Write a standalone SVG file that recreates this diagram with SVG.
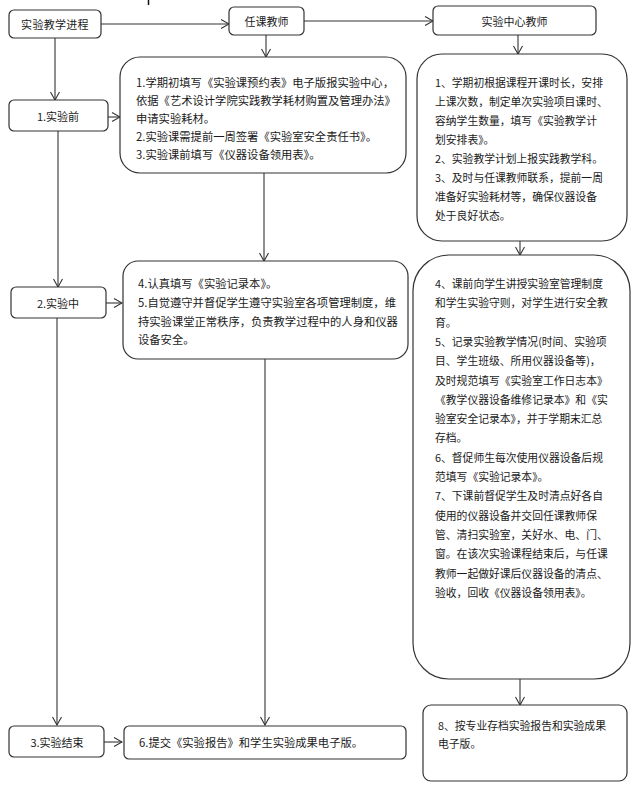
<svg xmlns="http://www.w3.org/2000/svg" width="638" height="785" viewBox="0 0 638 785">
<defs>
<marker id="arr" markerWidth="10" markerHeight="12" refX="9" refY="5" orient="auto" markerUnits="userSpaceOnUse">
<path d="M1,0.5 L9,5 L1,9.5" fill="none" stroke="#333" stroke-width="1.1"/>
</marker>
<style>
.box{fill:#fff;stroke:#333;stroke-width:1.2}
.c{fill:none;stroke:#333;stroke-width:1.1}
text{font-family:"Noto Sans CJK SC","Noto Sans",sans-serif;fill:#1a1a1a}
.h{font-size:11px;text-anchor:middle;dominant-baseline:central}
.t{font-size:11.3px;dominant-baseline:central}
.r{font-size:10.8px;dominant-baseline:central}
</style>
</defs>
<rect width="638" height="785" fill="#fff"/>
<line x1="148.5" y1="0" x2="148.5" y2="5" stroke="#111" stroke-width="1.5"/>
<g id="connectors">
<path class="c" d="M101,24 H229" marker-end="url(#arr)"/>
<path class="c" d="M304,21 H433" marker-end="url(#arr)"/>
<path class="c" d="M266,35 V57" marker-end="url(#arr)"/>
<path class="c" d="M518,35 V54" marker-end="url(#arr)"/>
<path class="c" d="M55,38 V100" marker-end="url(#arr)"/>
<path class="c" d="M108,117 H120" marker-end="url(#arr)"/>
<path class="c" d="M58,131 V287" marker-end="url(#arr)"/>
<path class="c" d="M264,173 V261" marker-end="url(#arr)"/>
<path class="c" d="M520,241 V255" marker-end="url(#arr)"/>
<path class="c" d="M106,303 H122" marker-end="url(#arr)"/>
<path class="c" d="M57,318 V725" marker-end="url(#arr)"/>
<path class="c" d="M265,359 V725" marker-end="url(#arr)"/>
<path class="c" d="M520,679 V705" marker-end="url(#arr)"/>
<path class="c" d="M104,742 H122" marker-end="url(#arr)"/>
</g>
<g id="n-process">
<rect class="box" x="9" y="10" width="92" height="28" rx="5"/>
<text class="h" x="55" y="24" letter-spacing="0.3">实验教学进程</text>
</g>
<g id="n-teacher">
<rect class="box" x="229" y="7" width="75" height="28" rx="5"/>
<text class="h" x="266.5" y="21">任课教师</text>
</g>
<g id="n-center">
<rect class="box" x="433" y="6" width="163" height="29" rx="5"/>
<text class="h" x="514.5" y="20.5">实验中心教师</text>
</g>
<g id="n-before">
<rect class="box" x="9" y="100" width="99" height="31" rx="5"/>
<text class="h" x="58" y="116">1.实验前</text>
</g>
<g id="n-during">
<rect class="box" x="11" y="287" width="95" height="31" rx="5"/>
<text class="h" x="58" y="303">2.实验中</text>
</g>
<g id="n-end">
<rect class="box" x="9" y="726" width="95" height="31" rx="5"/>
<text class="h" x="57" y="742">3.实验结束</text>
</g>
<g id="n-t1">
<rect class="box" x="120" y="57" width="286" height="116" rx="20"/>
<text class="t" x="136" y="82">1.学期初填写《实验课预约表》电子版报实验中心，</text>
<text class="t" x="136" y="100">依据《艺术设计学院实践教学耗材购置及管理办法》</text>
<text class="t" x="136" y="118">申请实验耗材。</text>
<text class="t" x="136" y="136">2.实验课需提前一周签署《实验室安全责任书》。</text>
<text class="t" x="136" y="154">3.实验课前填写《仪器设备领用表》。</text>
</g>
<g id="n-t2">
<rect class="box" x="123" y="261" width="285" height="98" rx="15"/>
<text class="t" x="138" y="283">4.认真填写《实验记录本》。</text>
<text class="t" x="138" y="302">5.自觉遵守并督促学生遵守实验室各项管理制度，维</text>
<text class="t" x="138" y="320.5">持实验课堂正常秩序，负责教学过程中的人身和仪器</text>
<text class="t" x="138" y="339">设备安全。</text>
</g>
<g id="n-t3">
<rect class="box" x="124" y="726" width="282" height="33" rx="5"/>
<text class="t" x="139" y="742">6.提交《实验报告》和学生实验成果电子版。</text>
</g>
<g id="n-c1">
<rect class="box" x="417" y="54" width="210" height="187" rx="25"/>
<text class="r" x="435" y="82">1、学期初根据课程开课时长，安排</text>
<text class="r" x="435" y="101">上课次数，制定单次实验项目课时、</text>
<text class="r" x="435" y="120">容纳学生数量，填写《实验教学计</text>
<text class="r" x="435" y="139">划安排表》。</text>
<text class="r" x="435" y="158">2、实验教学计划上报实践教学科。</text>
<text class="r" x="435" y="177">3、及时与任课教师联系，提前一周</text>
<text class="r" x="435" y="196">准备好实验耗材等，确保仪器设备</text>
<text class="r" x="435" y="215">处于良好状态。</text>
</g>
<g id="n-c2">
<rect class="box" x="413" y="255" width="217" height="424" rx="36"/>
<text class="r" x="435" y="283">4、课前向学生讲授实验室管理制度</text>
<text class="r" x="435" y="302.3">和学生实验守则，对学生进行安全教</text>
<text class="r" x="435" y="321.6">育。</text>
<text class="r" x="435" y="340.9">5、记录实验教学情况(时间、实验项</text>
<text class="r" x="435" y="360.2">目、学生班级、所用仪器设备等)，</text>
<text class="r" x="435" y="379.5">及时规范填写《实验室工作日志本》</text>
<text class="r" x="435" y="398.8">《教学仪器设备维修记录本》和《实</text>
<text class="r" x="435" y="418.1">验室安全记录本》，并于学期末汇总</text>
<text class="r" x="435" y="437.4">存档。</text>
<text class="r" x="435" y="456.7">6、督促师生每次使用仪器设备后规</text>
<text class="r" x="435" y="476">范填写《实验记录本》。</text>
<text class="r" x="435" y="495.3">7、下课前督促学生及时清点好各自</text>
<text class="r" x="435" y="514.6">使用的仪器设备并交回任课教师保</text>
<text class="r" x="435" y="533.9">管、清扫实验室，关好水、电、门、</text>
<text class="r" x="435" y="553.2">窗。在该次实验课程结束后，与任课</text>
<text class="r" x="435" y="572.5">教师一起做好课后仪器设备的清点、</text>
<text class="r" x="435" y="591.8">验收，回收《仪器设备领用表》。</text>
</g>
<g id="n-c3">
<rect class="box" x="423" y="705" width="204" height="76" rx="8"/>
<text class="r" x="438" y="725">8、按专业存档实验报告和实验成果</text>
<text class="r" x="438" y="743">电子版。</text>
</g>
</svg>
